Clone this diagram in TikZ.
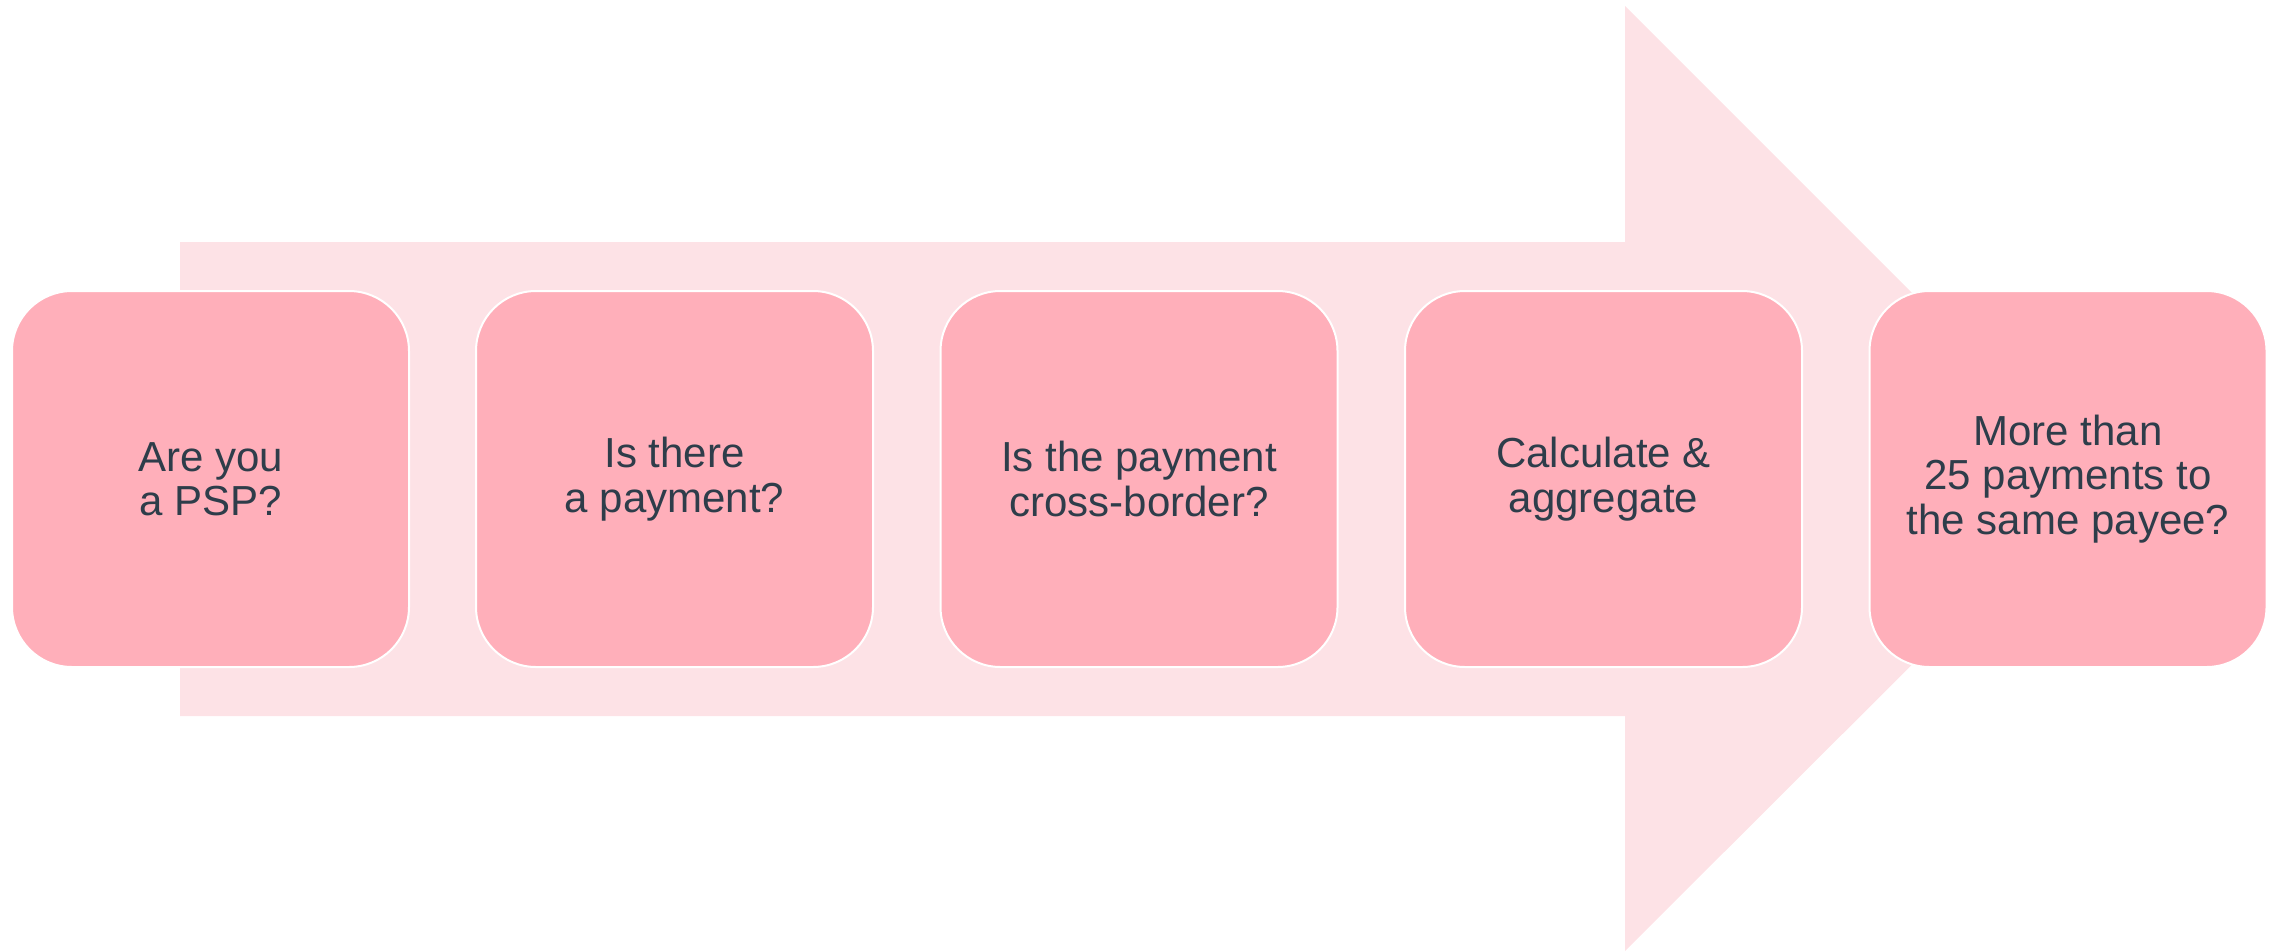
\documentclass[tikz,border=0pt]{standalone}
\usepackage{fontspec}
\setmainfont{Liberation Sans}
\definecolor{arrowpink}{HTML}{FDE2E6}
\definecolor{boxpink}{HTML}{FFAFBA}
\definecolor{inkslate}{HTML}{2E3D4A}
\begin{document}
\begin{tikzpicture}[x=1pt,y=-1pt,
  stepbox/.style={draw=white, line width=2pt, fill=boxpink, rounded corners=60pt,
    minimum width=397pt, minimum height=376pt, inner sep=0pt, align=center,
    text=inkslate, font=\fontsize{42}{44.5}\selectfont}]
\useasboundingbox (0,0) rectangle (2277,951);
% broad background arrow
\fill[arrowpink] (180,242) -- (1625,242) -- (1625,6) -- (2098,479)
  -- (1625,951) -- (1625,716) -- (180,716) -- cycle;
% process steps
\node[stepbox] (s1) at (210.5,479) {Are you\\a PSP?};
\node[stepbox] (s2) at (674.5,479) {Is there\\a payment?};
\node[stepbox] (s3) at (1139,479) {Is the payment\\cross-border?};
\node[stepbox] (s4) at (1603.5,479) {Calculate \&\\aggregate};
\node[stepbox] (s5) at (2068,479) {More than\\25 payments to\\the same payee?};
\end{tikzpicture}
\end{document}
